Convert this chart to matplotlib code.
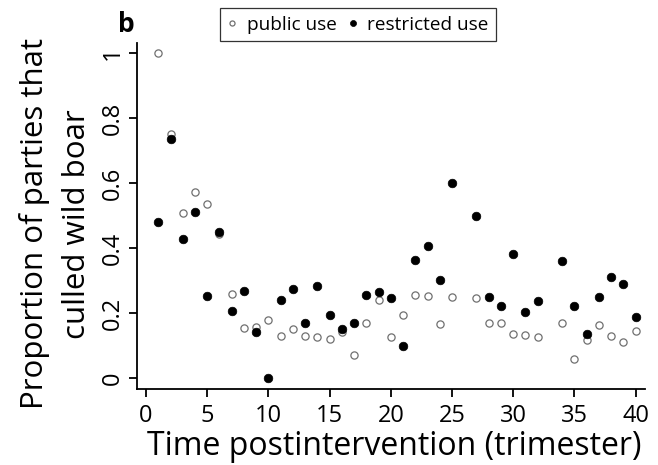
import numpy as np
import matplotlib.pyplot as plt

plt.rcParams['font.family'] = ['Open Sans', 'DejaVu Sans']

# trimesters after the intervention (26 and 33 have no data)
t_public = [1, 2, 3, 4, 5, 6, 7, 8, 9, 10, 11, 12, 13, 14, 15, 16, 17, 18, 19, 20,
            21, 22, 23, 24, 25, 27, 28, 29, 30, 31, 32, 34, 35, 36, 37, 38, 39, 40]
p_public = [1.0, 0.75, 0.508, 0.572, 0.537, 0.443, 0.26, 0.155, 0.158, 0.18,
            0.131, 0.152, 0.131, 0.127, 0.12, 0.143, 0.072, 0.169, 0.24, 0.128,
            0.194, 0.255, 0.253, 0.166, 0.25, 0.247, 0.169, 0.169, 0.135, 0.133,
            0.128, 0.17, 0.06, 0.118, 0.163, 0.13, 0.113, 0.146]

t_restricted = t_public
p_restricted = [0.482, 0.735, 0.428, 0.511, 0.254, 0.451, 0.206, 0.268, 0.142, 0.0,
                0.24, 0.274, 0.171, 0.285, 0.196, 0.152, 0.171, 0.257, 0.266, 0.246,
                0.1, 0.363, 0.407, 0.302, 0.6, 0.5, 0.25, 0.221, 0.382, 0.205,
                0.237, 0.362, 0.221, 0.137, 0.249, 0.31, 0.29, 0.188]

xticks = [0, 5, 10, 15, 20, 25, 30, 35, 40]
yticks = [0, 0.2, 0.4, 0.6, 0.8, 1]
ylabels = ["0", "0.2", "0.4", "0.6", "0.8", "1"]

fig = plt.figure(figsize=(6.58, 4.65), dpi=100)
ax = fig.add_axes([137 / 658, 1 - 389 / 465, (645 - 137) / 658, (389 - 43) / 465])

ax.plot(t_public, p_public, 'o', ls='none', ms=5.2, mfc='white', mec='#707070',
        mew=0.9, label='public use')
ax.plot(t_restricted, p_restricted, 'o', ls='none', ms=6.2, mfc='black', mec='black',
        mew=0.5, label='restricted use')

ax.set_xlim(-0.74, 40.77)
ax.set_ylim(-0.033, 1.031)
ax.set_xticks(xticks)
ax.set_yticks(yticks)
ax.set_yticklabels(ylabels, rotation=90, va='center')

for s in ['top', 'right']:
    ax.spines[s].set_visible(False)
for s in ['left', 'bottom']:
    ax.spines[s].set_linewidth(1.3)
ax.tick_params(axis='both', length=6, width=1.3, labelsize=17)
ax.tick_params(axis='x', pad=5)
ax.tick_params(axis='y', pad=3)

ax.set_xlabel("Time postintervention (trimester)", fontsize=23)
ax.xaxis.set_label_coords(0.506, -0.118)
ax.set_ylabel("Proportion of parties that\nculled wild boar", fontsize=22.5,
              linespacing=1.55)
ax.yaxis.set_label_coords(-0.088, 0.477)

fig.text(118 / 658, 1 - 25 / 465, "b", fontsize=19, fontweight='bold', va='center')

leg = fig.legend(loc='center', bbox_to_anchor=(358 / 658, 1 - 24.5 / 465), ncol=2,
                 fontsize=13.7, frameon=True, fancybox=False, handlelength=0.5,
                 handletextpad=0.5, columnspacing=0.6, borderpad=0.4,
                 markerscale=0.7, borderaxespad=0)
leg.get_frame().set_edgecolor('black')
leg.get_frame().set_linewidth(0.9)

fig.savefig("out.png", dpi=100)
